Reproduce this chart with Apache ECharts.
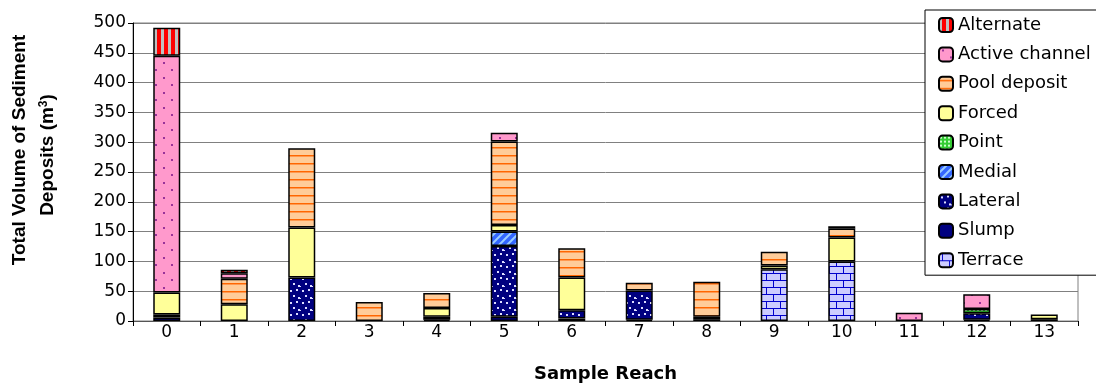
<!DOCTYPE html>
<html>
<head>
<meta charset="utf-8">
<script src="https://cdn.jsdelivr.net/npm/echarts@6/dist/echarts.min.js"></script>
<style>
html,body{margin:0;padding:0;background:#fff;}
#chart{width:1096px;height:385px;}
</style>
</head>
<body>
<div id="chart"></div>
<script>
// ---- Data ----
const categories = ['0','1','2','3','4','5','6','7','8','9','10','11','12','13'];
const terrace   = [0, 0, 0, 0, 0, 0, 0, 0, 0, 87, 100, 0, 0, 0];
const slump     = [6, 0, 0, 0, 2, 7, 4, 2, 3, 0, 0, 0, 2, 3];
const lateral   = [5, 0, 73, 0, 5, 119, 14, 49, 4, 0, 0, 0, 11, 0];
const medial    = [0, 0, 0, 0, 0, 24, 0, 0, 0, 0, 0, 0, 0, 0];
const point     = [0, 0, 0, 0, 0, 0, 0, 0, 0, 0, 0, 0, 7, 0];
const forced    = [37, 28, 84, 0, 15, 11, 55, 0, 0, 6, 40, 0, 0, 8];
const pool      = [0, 43, 133, 32, 25, 140, 49, 13, 59, 23, 15, 0, 0, 0];
const active    = [397, 9, 0, 0, 0, 15, 0, 0, 0, 0, 4, 14, 25, 0];
const alternate = [47, 6, 0, 0, 0, 0, 0, 0, 0, 0, 0, 0, 0, 0];
const yTicks = [0, 50, 100, 150, 200, 250, 300, 350, 400, 450, 500];

// ---- Patterns ----
function pat(w, h, draw) {
  const c = document.createElement('canvas');
  c.width = w; c.height = h;
  const g = c.getContext('2d');
  draw(g, w, h);
  return { image: c, repeat: 'repeat' };
}
const P = {
  Alternate: pat(7, 4, (g) => { g.fillStyle = '#FF0000'; g.fillRect(0,0,7,4); g.fillStyle = '#C0C0C0'; g.fillRect(0,0,3,4); }),
  'Active channel': pat(16, 15, (g) => { g.fillStyle = '#FF99CC'; g.fillRect(0,0,16,15); g.fillStyle = '#993399'; g.fillRect(3,2,2,2); g.fillRect(11,9,2,2); }),
  'Pool deposit': pat(4, 8, (g) => { g.fillStyle = '#FFCC99'; g.fillRect(0,0,4,8); g.fillStyle = '#FF6600'; g.fillRect(0,3,4,1); g.fillStyle = '#FF9950'; g.fillRect(0,4,4,1); }),
  Forced: '#FFFF99',
  Point: pat(4, 4, (g) => { g.fillStyle = '#33CC33'; g.fillRect(0,0,4,4); g.fillStyle = '#CCFFCC'; g.fillRect(1,1,2,2); }),
  Medial: pat(8, 8, (g) => { g.fillStyle = '#3366FF'; g.fillRect(0,0,8,8); g.strokeStyle = '#99CCFF'; g.lineWidth = 2; g.beginPath(); g.moveTo(-1,9); g.lineTo(9,-1); g.moveTo(-5,5); g.lineTo(5,-5); g.moveTo(3,13); g.lineTo(13,3); g.stroke(); }),
  Lateral: pat(12, 12, (g) => { g.fillStyle = '#000080'; g.fillRect(0,0,12,12); g.fillStyle = '#DDDDFF'; g.fillRect(2,2,2,2); g.fillRect(8,1,2,2); g.fillRect(5,7,2,2); g.fillRect(10,9,2,2); g.fillRect(0,10,1,1); }),
  Slump: '#000080',
  Terrace: pat(14, 14, (g) => { g.fillStyle = '#CCCCFF'; g.fillRect(0,0,14,14); g.fillStyle = '#0000CC'; g.fillRect(0,0,14,1); g.fillRect(0,7,14,1); g.fillRect(3,0,1,7); g.fillRect(10,7,1,7); })
};

const stackOrder = [
  ['Terrace', terrace], ['Slump', slump], ['Lateral', lateral], ['Medial', medial],
  ['Point', point], ['Forced', forced], ['Pool deposit', pool],
  ['Active channel', active], ['Alternate', alternate]
];
const legendOrder = ['Alternate','Active channel','Pool deposit','Forced','Point','Medial','Lateral','Slump','Terrace'];

const series = stackOrder.map(([name, arr]) => ({
  name: name,
  type: 'bar',
  stack: 'total',
  barWidth: 27,
  data: arr.map(v => v === 0 ? '-' : v),
  itemStyle: { color: P[name], borderColor: '#000', borderWidth: 1.5 },
  emphasis: { disabled: true }
}));

const SANS = '"DejaVu Sans", sans-serif';
const ARIAL = '"Liberation Sans", Arial, sans-serif';

const chart = echarts.init(document.getElementById('chart'), null, { renderer: 'canvas' });
chart.setOption({
  animation: false,
  backgroundColor: '#ffffff',
  textStyle: { fontFamily: SANS, color: '#000' },
  grid: { left: 133, right: 18, top: 23, bottom: 64, show: true, borderColor: '#808080', borderWidth: 1, containLabel: false, outerBoundsMode: 'none' },
  legend: {
    data: legendOrder,
    orient: 'vertical',
    left: 925, top: 10,
    padding: [6, 6, 6, 13],
    itemGap: 11.4,
    itemWidth: 14, itemHeight: 14,
    backgroundColor: '#fff',
    borderColor: '#000', borderWidth: 1,
    textStyle: { fontSize: 18, lineHeight: 18, color: '#000', fontFamily: SANS },
    selectedMode: false,
    z: 10
  },
  xAxis: {
    type: 'category',
    data: categories,
    boundaryGap: true,
    name: 'Sample Reach',
    nameLocation: 'middle',
    nameGap: 44,
    nameTextStyle: { fontSize: 18, fontWeight: 'bold', color: '#000', fontFamily: SANS },
    axisLine: { lineStyle: { color: '#555', width: 1 } },
    axisTick: { show: true, length: 5, lineStyle: { color: '#000' } },
    axisLabel: { fontSize: 17, color: '#000', margin: 3, fontFamily: SANS }
  },
  yAxis: {
    type: 'value',
    min: yTicks[0], max: yTicks[yTicks.length - 1], interval: 50,
    axisLine: { show: true, lineStyle: { color: '#000', width: 1 } },
    axisTick: { show: true, length: 5, lineStyle: { color: '#000' } },
    axisLabel: { fontSize: 17, color: '#000', margin: 7, fontFamily: SANS },
    splitLine: { show: true, lineStyle: { color: '#808080', width: 1 } }
  },
  graphic: [
    { type: 'text', rotation: Math.PI / 2, z: 10, x: 20, y: 150,
      style: { text: 'Total Volume of Sediment', fontSize: 19, fontWeight: 'bold', fill: '#000', fontFamily: ARIAL, align: 'center', verticalAlign: 'middle' } },
    { type: 'text', rotation: Math.PI / 2, z: 10, x: 48, y: 155,
      style: { rich: { n: { fontSize: 19, fontWeight: 'bold', fontFamily: ARIAL }, s: { fontSize: 12, fontWeight: 'bold', fontFamily: ARIAL, padding: [0,0,9,0] } }, text: '{n|Deposits (m}{s|3}{n|)}', fill: '#000', align: 'center', verticalAlign: 'middle' } }
  ],
  series: series
});
</script>
</body>
</html>
